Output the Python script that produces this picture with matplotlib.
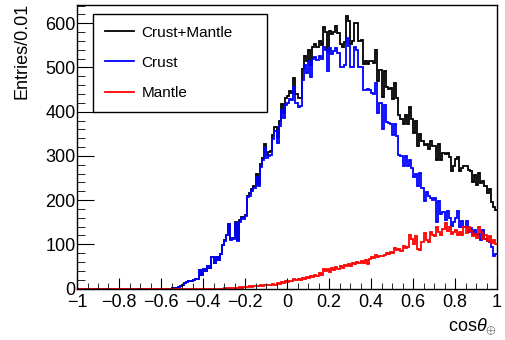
import numpy as np
import matplotlib
matplotlib.use("Agg")
import matplotlib.pyplot as plt
from matplotlib.ticker import MultipleLocator, FuncFormatter

plt.rcParams['font.family'] = ['Liberation Sans', 'DejaVu Sans']
plt.rcParams['mathtext.fontset'] = 'custom'
plt.rcParams['mathtext.rm'] = 'Liberation Sans'
plt.rcParams['mathtext.it'] = 'Liberation Sans:italic'

# 200 bins of width 0.01 on [-1, 1]
x_min, x_max, n_bins = -1.0, 1.0, 200

# crust entries per bin
crust = [0]*45 + [
    1, 2, 2, 4, 5,
    9, 13, 15, 17, 18, 19, 21, 22, 41, 30,
    44, 39, 50, 46, 71, 58, 72, 64, 78, 98,
    108, 120, 146, 110, 113, 149, 108, 151, 160, 158,
    163, 206, 210, 220, 228, 252, 232, 274, 290, 318,
    296, 300, 302, 338, 356, 330, 368, 404, 385, 415,
    420, 428, 426, 455, 420, 410, 412, 472, 505, 488,
    515, 478, 520, 523, 518, 525, 520, 546, 540, 492,
    545, 530, 538, 545, 532, 502, 500, 505, 566, 548,
    500, 502, 546, 540, 502, 500, 449, 450, 452, 449,
    442, 440, 465, 398, 420, 360, 415, 376, 374, 372,
    348, 372, 346, 302, 300, 276, 300, 278, 290, 272,
    252, 260, 232, 262, 228, 198, 218, 210, 205, 200,
    204, 150, 198, 168, 172, 156, 176, 160, 142, 150,
    160, 175, 138, 152, 140, 152, 128, 136, 122, 132,
    120, 124, 110, 132, 112, 108, 106, 94, 74, 78,
]

# mantle entries per bin
mantle = [0]*70 + [
    1, 0, 1, 2, 1, 2, 2, 3, 2, 3,
    4, 3, 5, 4, 5, 6, 5, 7, 6, 8,
    7, 9, 8, 10, 9, 12, 11, 14, 12, 16,
    15, 18, 16, 21, 19, 22, 20, 24, 22, 27,
    24, 28, 26, 31, 29, 34, 31, 45, 40, 44,
    38, 46, 42, 48, 45, 50, 47, 53, 50, 56,
    52, 58, 55, 60, 57, 62, 58, 64, 56, 66,
    72, 70, 75, 72, 74, 73, 76, 80, 78, 82,
    80, 92, 86, 90, 84, 96, 92, 95, 120, 112,
    100, 118, 90, 88, 105, 126, 110, 106, 128, 122,
    118, 140, 128, 122, 135, 148, 130, 138, 124, 128,
    132, 122, 128, 120, 138, 126, 140, 130, 118, 124,
    115, 138, 128, 112, 120, 108, 118, 102, 110, 100,
]

labels = ['Crust+Mantle', 'Crust', 'Mantle']
colors = ['black', '#0000ff', '#ff0000']

crust = np.array(crust, dtype=float)
mantle = np.array(mantle, dtype=float)
total = crust + mantle
edges = np.linspace(x_min, x_max, n_bins + 1)

fig = plt.figure(figsize=(5.05, 3.4), dpi=100)
ax = fig.add_axes([77/505, 1-288.5/340, 420/505, (288.5-4.7)/340])

for vals, lab, col in zip([total, crust, mantle], labels, colors):
    ax.stairs(vals, edges, color=col, lw=1.3, label=lab, baseline=None)

ax.set_xlim(x_min, x_max)
ax.set_ylim(0, 642)

ax.xaxis.set_major_locator(MultipleLocator(0.2))
ax.xaxis.set_minor_locator(MultipleLocator(0.05))
ax.yaxis.set_major_locator(MultipleLocator(100))
ax.yaxis.set_minor_locator(MultipleLocator(20))

def fmt(v, pos):
    s = '%g' % round(v, 6)
    return s.replace('-', '\u2212')

ax.xaxis.set_major_formatter(FuncFormatter(fmt))
ax.yaxis.set_major_formatter(FuncFormatter(fmt))

ax.tick_params(which='both', direction='in', top=False, right=False, labelsize=13, colors='black')
ax.tick_params(axis='x', which='major', length=8, pad=4)
ax.tick_params(axis='x', which='minor', length=4)
ax.tick_params(axis='y', which='major', length=12, pad=1)
ax.tick_params(axis='y', which='minor', length=6)
for sp in ax.spines.values():
    sp.set_linewidth(1.0)

fig.text(22.5/505, 1-3/340, 'Entries/0.01', rotation=90, ha='center', va='top', fontsize=13)
fig.text(497/505, 1-330/340, r'cos$\theta_{\oplus}$', ha='right', va='baseline', fontsize=13)

leg = ax.legend(loc='upper left', bbox_to_anchor=(93/505, 1-107/340, (267-93)/505, (107-14)/340),
                bbox_transform=fig.transFigure, mode='expand', borderaxespad=0,
                fancybox=False, edgecolor='black', framealpha=1, fontsize=11,
                handlelength=1.9, handletextpad=0.5, labelspacing=1.06, borderpad=0.76)
leg.get_frame().set_linewidth(1.0)

fig.savefig('out.png', dpi=100)
